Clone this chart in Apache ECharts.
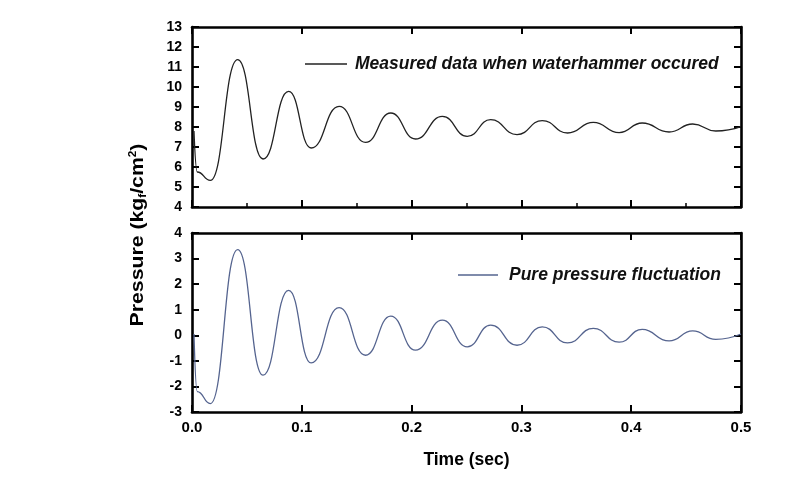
<!DOCTYPE html>
<html><head><meta charset="utf-8">
<script src="https://cdn.jsdelivr.net/npm/echarts@6/dist/echarts.min.js"></script>
<style>html,body{margin:0;padding:0;background:#fff}#c{width:810px;height:491px}</style>
</head><body><div id="c"></div>
<script>
// Turning points (time in sec, pressure in kgf/cm2)
const timeMeasured = [0.0018,0.0048,0.0167,0.0416,0.0647,0.088,0.1085,0.134,0.158,0.181,0.2035,0.228,0.2507,0.272,0.296,0.319,0.342,0.3655,0.389,0.410,0.4345,0.456,0.477,0.500];
const pressureMeasured = [7.80,5.75,5.33,11.37,6.40,9.78,6.95,9.03,7.23,8.70,7.40,8.53,7.53,8.37,7.62,8.32,7.70,8.23,7.72,8.20,7.75,8.15,7.80,8.02];

const timeFluct = [0.0018,0.0048,0.0167,0.0416,0.0647,0.088,0.1085,0.134,0.158,0.181,0.2035,0.228,0.2507,0.272,0.296,0.319,0.342,0.3655,0.389,0.410,0.4345,0.456,0.477,0.500];
const pressureFluct = [0.05,-2.20,-2.67,3.35,-1.56,1.76,-1.08,1.08,-0.78,0.75,-0.58,0.59,-0.45,0.40,-0.39,0.33,-0.30,0.27,-0.27,0.23,-0.22,0.17,-0.16,0.05];

const xTicks = [0.0,0.1,0.2,0.3,0.4,0.5];
const yTicksTop = [4,5,6,7,8,9,10,11,12,13];
const yTicksBottom = [-3,-2,-1,0,1,2,3,4];
const legendTop = 'Measured data when waterhammer occured';
const legendBottom = 'Pure pressure fluctuation';

const pairs = (xs, ys) => xs.map((x, i) => [x, ys[i]]);
const FONT = 'Liberation Sans, Arial, sans-serif';
const AX = {color:'#000', width:2.6};

function xAx(grid, pos, showLabel, minor, name){
  return {type:'value', gridIndex:grid, position:pos, min:xTicks[0], max:xTicks[xTicks.length-1], interval:0.1,
    axisLine:{show:true, onZero:false, lineStyle:AX},
    axisTick:{show:true, inside:true, length:7, lineStyle:{color:'#000', width:2}},
    minorTick:{show:minor, splitNumber:2, length:4, lineStyle:{color:'#000', width:1.5}},
    axisLabel:{show:showLabel, margin:8, formatter:v=>v.toFixed(1), color:'#000', fontFamily:FONT, fontWeight:'bold', fontSize:15},
    splitLine:{show:false},
    name:name||'', nameLocation:'middle', nameGap:39,
    nameTextStyle:{color:'#000', fontFamily:FONT, fontWeight:'bold', fontSize:17.5}};
}
function yAx(grid, pos, ticks, showLabel){
  return {type:'value', gridIndex:grid, position:pos, min:ticks[0], max:ticks[ticks.length-1], interval:1,
    axisLine:{show:true, onZero:false, lineStyle:AX},
    axisTick:{show:true, inside:true, length:7, lineStyle:{color:'#000', width:2}},
    axisLabel:{show:showLabel, margin:10, color:'#000', fontFamily:FONT, fontWeight:'bold', fontSize:14},
    splitLine:{show:false}};
}

const chart = echarts.init(document.getElementById('c'), null, {renderer:'canvas'});
chart.setOption({
  animation:false,
  backgroundColor:'#fff',
  grid:[
    {left:192, top:27, width:549, height:180},
    {left:192, top:233, width:549, height:179}
  ],
  xAxis:[
    xAx(0,'bottom',false,true), xAx(0,'top',false,false),
    xAx(1,'bottom',true,false,'Time (sec)'), xAx(1,'top',false,false)
  ],
  yAxis:[
    yAx(0,'left',yTicksTop,true), yAx(0,'right',yTicksTop,false),
    yAx(1,'left',yTicksBottom,true), yAx(1,'right',yTicksBottom,false)
  ],
  legend:[
    {data:[legendTop], left:300, top:50, icon:'rect', itemWidth:42, itemHeight:1.4, itemGap:0,
     textStyle:{color:'#111', fontFamily:FONT, fontWeight:'bold', fontStyle:'italic', fontSize:17.5, padding:[0,0,0,3]}},
    {data:[legendBottom], left:453, top:261, icon:'rect', itemWidth:40, itemHeight:1.4, itemGap:0,
     textStyle:{color:'#111', fontFamily:FONT, fontWeight:'bold', fontStyle:'italic', fontSize:17.5, padding:[0,0,0,6]}}
  ],
  graphic:[
    {type:'text', x:138, y:235, rotation:Math.PI/2, scaleX:1.18,
     style:{text:'{a|Pressure (kg}{s|f}{a|/cm}{p|2}{a|)}', align:'center', verticalAlign:'middle', rich:{
        a:{fontFamily:FONT, fontWeight:'bold', fontSize:18, fill:'#000', lineHeight:22},
        s:{fontFamily:FONT, fontWeight:'bold', fontSize:10, fill:'#000', padding:[10,0,0,0]},
        p:{fontFamily:FONT, fontWeight:'bold', fontSize:10, fill:'#000', padding:[0,0,10,0]}
     }}}
  ],
  series:[
    {name:legendTop, type:'line', xAxisIndex:0, yAxisIndex:0, data:pairs(timeMeasured, pressureMeasured),
     smooth:0.5, smoothMonotone:'x', symbol:'none', lineStyle:{color:'#222', width:1.3}, itemStyle:{color:'#222'}},
    {name:legendBottom, type:'line', xAxisIndex:2, yAxisIndex:2, data:pairs(timeFluct, pressureFluct),
     smooth:0.5, smoothMonotone:'x', symbol:'none', lineStyle:{color:'#55648f', width:1.3}, itemStyle:{color:'#55648f'}}
  ]
});
</script></body></html>
